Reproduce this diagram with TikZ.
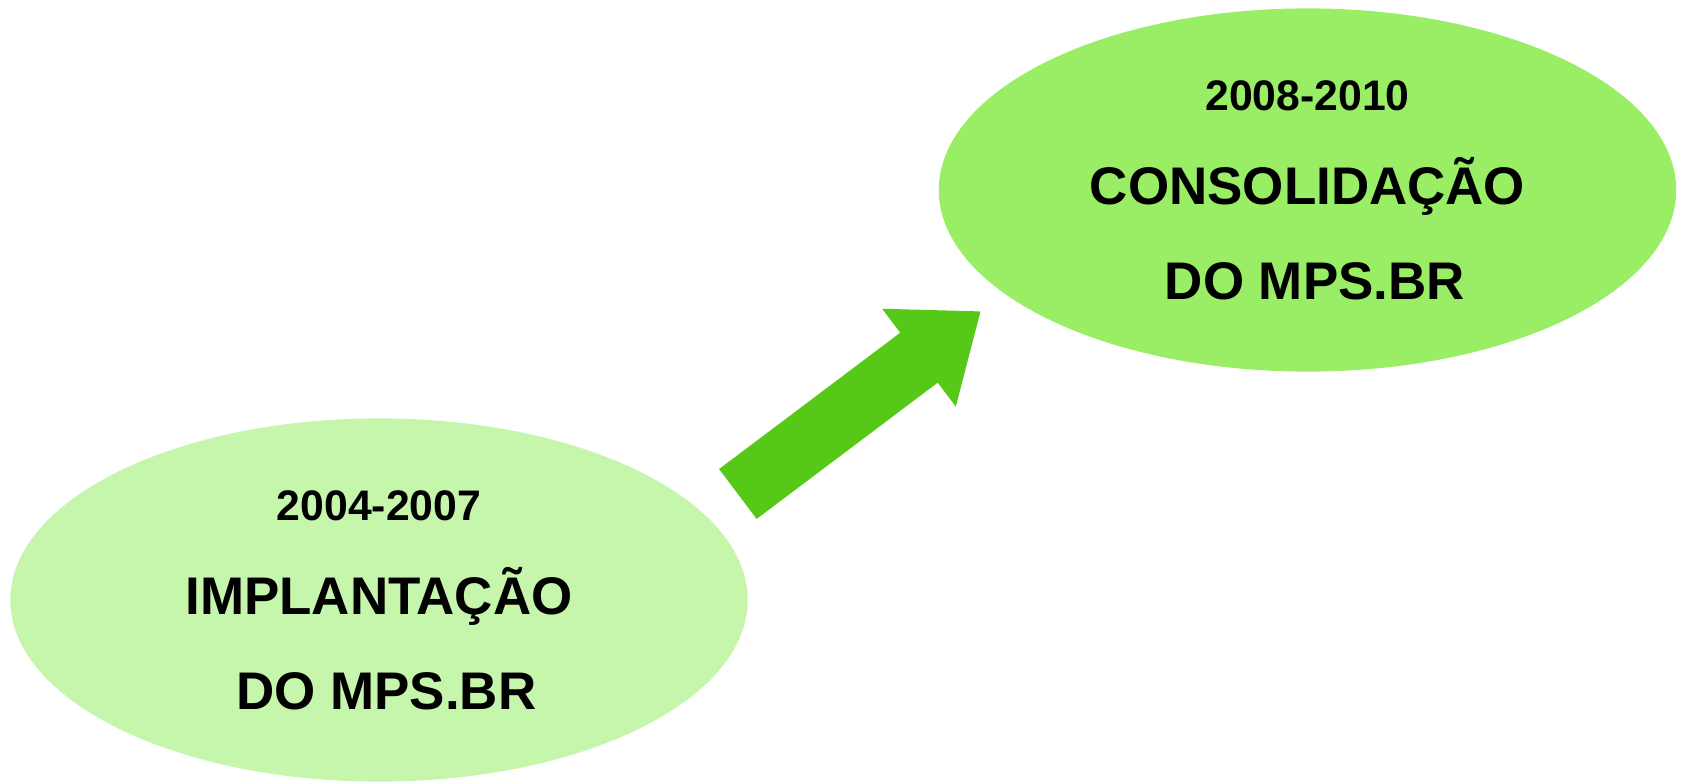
\documentclass[tikz,border=0pt]{standalone}
\usepackage{fontspec}
\setmainfont{Liberation Sans}
\usetikzlibrary{shapes.geometric,shapes.arrows}
\definecolor{earlygreen}{RGB}{198,246,172}
\definecolor{lategreen}{RGB}{153,238,102}
\definecolor{arrowgreen}{RGB}{86,201,24}
\newcommand{\phaseyear}[1]{{\fontsize{12.15}{26.9}\selectfont #1}}
\begin{document}
\begin{tikzpicture}[x=0.01cm, y=-0.01cm,
    phase/.style={ellipse,draw=none,inner sep=0pt,minimum width=7.37cm,minimum height=3.63cm,
      align=center,font=\fontsize{15.05}{26.9}\selectfont\bfseries},
    bigarrow/.style={single arrow,draw=none,fill=arrowgreen,inner sep=0.305cm,minimum width=0pt,
      minimum height=3.035cm,single arrow head extend=0.3cm,single arrow head indent=0pt,
      single arrow tip angle=77}
    ]

    \useasboundingbox (0,0) rectangle (1681,782);

    % first phase:
    \node (implantacao) at (379, 600) [phase, fill=earlygreen]
      {\phaseyear{2004-2007}\\IMPLANTAÇÃO\\~DO MPS.BR};

    % second phase:
    \node (consolidacao) at (1307.5, 190) [phase, fill=lategreen]
      {\phaseyear{2008-2010}\\CONSOLIDAÇÃO\\~DO MPS.BR};

    % arrow between phases:
    \node (passo) at (843.5, 414.5) [bigarrow, rotate=36.96] {};

  \end{tikzpicture}
\end{document}
